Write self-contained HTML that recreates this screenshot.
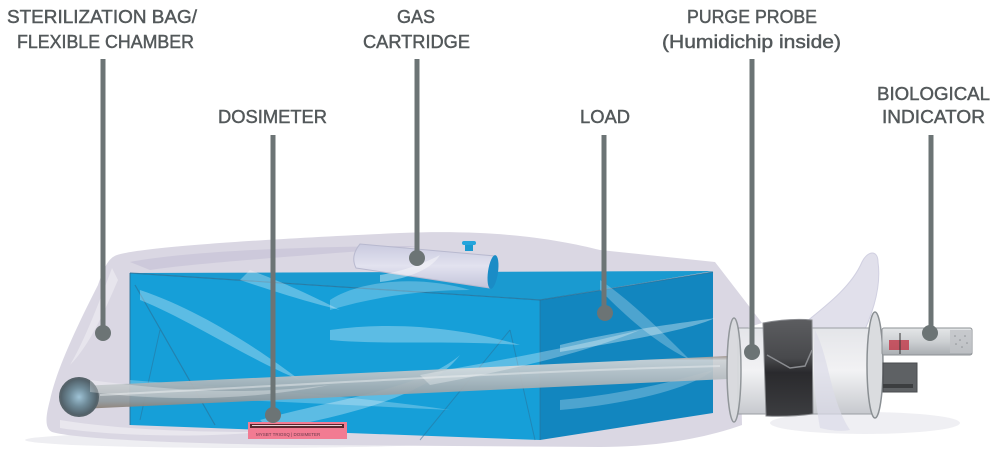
<!DOCTYPE html>
<html>
<head>
<meta charset="utf-8">
<style>
  html,body{margin:0;padding:0;background:#fff;}
  body{width:1000px;height:472px;overflow:hidden;}
  svg{display:block;}
  .lbl{font-family:"Liberation Sans",sans-serif;font-size:18.5px;fill:#53585a;stroke:#53585a;stroke-width:0.45px;}
</style>
</head>
<body>
<svg width="1000" height="472" viewBox="0 0 1000 472" xmlns="http://www.w3.org/2000/svg">
  <defs>
    <linearGradient id="rod" x1="0" y1="0" x2="0" y2="1">
      <stop offset="0" stop-color="#9a8f86"/>
      <stop offset="0.08" stop-color="#cfd4d7"/>
      <stop offset="0.45" stop-color="#b4bbbf"/>
      <stop offset="0.85" stop-color="#8f989d"/>
      <stop offset="1" stop-color="#8a7d72"/>
    </linearGradient>
    <radialGradient id="ball" cx="0.5" cy="0.5" r="0.5">
      <stop offset="0" stop-color="#9fc3d6"/>
      <stop offset="0.5" stop-color="#6f8b99"/>
      <stop offset="1" stop-color="#4e5c64"/>
    </radialGradient>
    <linearGradient id="cyl" x1="0" y1="0" x2="0" y2="1">
      <stop offset="0" stop-color="#e4e5e9"/>
      <stop offset="0.5" stop-color="#f2f2f4"/>
      <stop offset="1" stop-color="#c7c9ce"/>
    </linearGradient>
    <linearGradient id="band" x1="0" y1="0" x2="0" y2="1">
      <stop offset="0" stop-color="#5c5d60"/>
      <stop offset="0.4" stop-color="#48494c"/>
      <stop offset="0.55" stop-color="#2a2a2d"/>
      <stop offset="1" stop-color="#3c3d40"/>
    </linearGradient>
    <linearGradient id="bi" x1="0" y1="0" x2="0" y2="1">
      <stop offset="0" stop-color="#e4e6e8"/>
      <stop offset="0.5" stop-color="#cdd0d3"/>
      <stop offset="1" stop-color="#a9adb1"/>
    </linearGradient>
    <linearGradient id="cart" x1="0" y1="0" x2="0" y2="1">
      <stop offset="0" stop-color="#c9cadf"/>
      <stop offset="0.5" stop-color="#e2e2ef"/>
      <stop offset="1" stop-color="#c3c4da"/>
    </linearGradient>
  </defs>

  <!-- shadows -->
  <ellipse cx="250" cy="440" rx="225" ry="8" fill="#eeeef2"/>
  <ellipse cx="865" cy="423" rx="95" ry="11" fill="#efeff3"/>

  <!-- bag -->
  <path d="M117 255 C135 249 220 241 400 233 C500 229 560 240 600 250 L715 262 L762 323 L740 330 L742 425 C700 440 650 447 600 447 L300 445 C200 444 80 440 52 432 C44 428 46 415 50 400 C56 370 80 320 98 285 C104 268 108 258 117 255 Z" fill="#dad7e3"/>
  <path d="M130 262 C180 252 300 246 420 246 C360 252 200 262 150 270 Z" fill="#c9c6d8" opacity="0.8"/>
  <path d="M112 268 C100 300 85 340 70 365 C90 345 105 310 118 280 Z" fill="#ffffff" opacity="0.35"/>
  <path d="M60 420 C120 430 200 432 260 432 C200 438 110 436 60 428 Z" fill="#ffffff" opacity="0.4"/>

  <!-- blue box -->
  <polygon points="130,273 540,300 540,440 130,425" fill="#169fd8"/>
  <polygon points="130,273 713,271 540,300" fill="#1a9ad0"/>
  <polygon points="540,300 713,272 713,413 540,440" fill="#1286bf"/>
  <polyline points="130,273 540,300 713,272" fill="none" stroke="#2a6f95" stroke-width="1.2" opacity="0.7"/>
  <line x1="540" y1="300" x2="540" y2="440" stroke="#2a6f95" stroke-width="1" opacity="0.6"/>
  <line x1="130" y1="273" x2="130" y2="425" stroke="#2a6f95" stroke-width="1.5" opacity="0.6"/>
  <line x1="135" y1="285" x2="215" y2="425" stroke="#2a6f95" stroke-width="1.2" opacity="0.6"/>
  <line x1="160" y1="330" x2="140" y2="420" stroke="#2a6f95" stroke-width="1" opacity="0.5"/>
  <line x1="510" y1="330" x2="420" y2="440" stroke="#2a6f95" stroke-width="1" opacity="0.5"/>
  <line x1="510" y1="330" x2="535" y2="440" stroke="#2a6f95" stroke-width="1" opacity="0.5"/>

  <!-- plastic streaks over box -->
  <g fill="#ffffff">
    <path d="M140 290 C200 310 260 350 300 380 C250 360 190 320 140 300 Z" opacity="0.3"/>
    <path d="M330 330 C400 320 470 330 520 345 C450 340 380 345 330 340 Z" opacity="0.3"/>
    <path d="M130 380 C250 390 350 395 450 410 C350 405 240 400 130 395 Z" opacity="0.25"/>
    <path d="M260 420 C330 400 420 390 460 355 C430 395 350 415 270 430 Z" opacity="0.3"/>
    <path d="M560 345 C620 330 690 322 715 318 C690 330 620 342 560 352 Z" opacity="0.35"/>
    <path d="M560 400 C620 395 680 380 713 370 C690 390 620 405 560 410 Z" opacity="0.25"/>
    <path d="M330 300 C360 280 420 275 470 290 C430 290 380 295 330 310 Z" opacity="0.25"/>
    <path d="M600 280 C630 300 660 330 690 360 C650 340 620 310 600 290 Z" opacity="0.25"/>
    <path d="M250 270 C290 285 320 300 340 310 C300 300 270 290 240 280 Z" opacity="0.3"/>
  </g>

  <!-- gas cartridge -->
  <path d="M360 244 L495 256 L490 288 L356 268 Q350 256 360 244 Z" fill="url(#cart)" stroke="#b8b9cf" stroke-width="1"/>
  <ellipse cx="493" cy="272" rx="5" ry="17" fill="#1a8cc6" transform="rotate(8 493 272)"/>
  <rect x="465" y="245" width="8" height="6" fill="#1a9ad0"/>
  <rect x="462" y="241" width="14" height="4" rx="2" fill="#25a5dc"/>
  <path d="M380 275 C410 270 430 260 440 255 C430 272 400 280 380 282 Z" fill="#fff" opacity="0.4"/>

  <!-- rod -->
  <polygon points="80,386 728,356 728,379 80,409" fill="url(#rod)" opacity="0.92"/>
  <path d="M100 395 C300 385 500 372 720 366" stroke="#e8ecee" stroke-width="2" fill="none" opacity="0.5"/>
  <circle cx="79" cy="397" r="19" fill="url(#ball)" stroke="#56636a" stroke-width="2"/>

  <!-- overlay streaks across rod -->
  <g fill="#ffffff">
    <path d="M90 380 C180 392 250 395 330 385 C250 400 170 402 90 392 Z" opacity="0.3"/>
    <path d="M420 375 C500 360 560 350 640 330 C580 355 500 372 430 385 Z" opacity="0.3"/>
  </g>

  <!-- probe assembly -->
  <path d="M790 335 C820 310 850 290 862 262 C868 250 878 250 878 262 C882 290 870 320 860 340 Z" fill="#dcdbe8" opacity="0.85" stroke="#c9c8dc" stroke-width="1"/>
  <rect x="738" y="328" width="134" height="86" fill="url(#cyl)" stroke="#9a9ea3" stroke-width="1"/>
  <path d="M763 323 Q790 318 812 320 L813 414 Q790 417 766 416 Z" fill="url(#band)" stroke="#8a8c90" stroke-width="1"/>
  <path d="M767 355 L790 368 L805 366 L812 350" stroke="#8a8c90" stroke-width="1.5" fill="none"/>
  <path d="M815 330 C830 360 830 400 850 430 C840 432 828 430 820 428 C815 400 812 370 815 330 Z" fill="#dcdbe8" opacity="0.7"/>
  <ellipse cx="734" cy="370" rx="7" ry="52" fill="#d9dbde" stroke="#8a8f93" stroke-width="1.5" opacity="0.9"/>
  <ellipse cx="875" cy="365" rx="8" ry="53" fill="#dadcdf" stroke="#8a8f93" stroke-width="1.5"/>
  <rect x="883" y="363" width="34" height="29" fill="#5e6164" stroke="#4a4c4f" stroke-width="1"/>
  <rect x="883" y="384" width="30" height="4" fill="#3c3e40"/>
  <rect x="882" y="328" width="90" height="27" rx="2" fill="url(#bi)" stroke="#8e9296" stroke-width="1"/>
  <rect x="950" y="330" width="22" height="23" fill="#c0c3c7" opacity="0.8"/>
  <g fill="#8e9296">
    <circle cx="955" cy="336" r="0.8"/><circle cx="960" cy="340" r="0.8"/><circle cx="965" cy="336" r="0.8"/>
    <circle cx="956" cy="344" r="0.8"/><circle cx="962" cy="347" r="0.8"/><circle cx="967" cy="343" r="0.8"/>
  </g>
  <rect x="889" y="340" width="20" height="10" fill="#c2404f" opacity="0.85"/>
  <line x1="900" y1="333" x2="900" y2="354" stroke="#333" stroke-width="1"/>

  <!-- dosimeter -->
  <rect x="248" y="422" width="99" height="17" fill="#f27b92"/>
  <rect x="250" y="424" width="94" height="4" fill="#5a2830"/>
  <rect x="252" y="425" width="90" height="1" fill="#e9d4d8"/>
  <text x="256" y="436" font-family="Liberation Sans, sans-serif" font-size="4.5" fill="#6a3a4a">MYSBT TRIOSQ | DOSIMETER</text>

  <!-- connector lines -->
  <g stroke="#6c7475" stroke-width="5">
    <line x1="103" y1="59" x2="103" y2="333"/>
    <line x1="417" y1="59" x2="417" y2="258"/>
    <line x1="752" y1="59" x2="752" y2="352"/>
    <line x1="273" y1="135" x2="273" y2="415"/>
    <line x1="604" y1="135" x2="604" y2="313"/>
    <line x1="931" y1="135" x2="931" y2="333"/>
  </g>
  <g fill="#6c7475">
    <circle cx="103" cy="333" r="8"/>
    <circle cx="417" cy="258" r="8"/>
    <circle cx="752" cy="352" r="8"/>
    <circle cx="273" cy="415" r="8"/>
    <circle cx="605" cy="313" r="8"/>
    <circle cx="930" cy="333" r="8"/>
  </g>

  <!-- labels -->
  <text class="lbl" x="7" y="23" textLength="190" lengthAdjust="spacingAndGlyphs">STERILIZATION BAG/</text>
  <text class="lbl" x="17" y="48" textLength="177" lengthAdjust="spacingAndGlyphs">FLEXIBLE CHAMBER</text>
  <text class="lbl" x="397" y="23" textLength="38" lengthAdjust="spacingAndGlyphs">GAS</text>
  <text class="lbl" x="363" y="48" textLength="107" lengthAdjust="spacingAndGlyphs">CARTRIDGE</text>
  <text class="lbl" x="218" y="123" textLength="109" lengthAdjust="spacingAndGlyphs">DOSIMETER</text>
  <text class="lbl" x="580" y="123" textLength="50" lengthAdjust="spacingAndGlyphs">LOAD</text>
  <text class="lbl" x="687" y="23" textLength="130" lengthAdjust="spacingAndGlyphs">PURGE PROBE</text>
  <text class="lbl" x="662" y="48" textLength="179" lengthAdjust="spacingAndGlyphs">(Humidichip inside)</text>
  <text class="lbl" x="877" y="100" textLength="113" lengthAdjust="spacingAndGlyphs">BIOLOGICAL</text>
  <text class="lbl" x="882" y="123" textLength="103" lengthAdjust="spacingAndGlyphs">INDICATOR</text>
</svg>
</body>
</html>
